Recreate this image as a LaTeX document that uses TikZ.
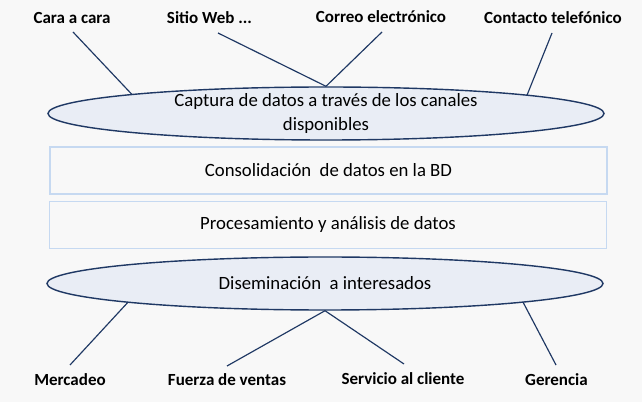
\documentclass[tikz,border=0pt]{standalone}
\usepackage{fontspec}
\setmainfont{Carlito}
\usetikzlibrary{shapes.geometric,positioning}

\definecolor{bgcol}{HTML}{F8F8F8}
\definecolor{navy}{HTML}{1F3864}
\definecolor{ellfill}{HTML}{E9EDF5}
\definecolor{boxline}{HTML}{C6D9F1}

\tikzset{
  stage/.style={ellipse, draw=navy, fill=ellfill, line width=1.2pt,
    minimum width=556*0.03cm, minimum height=53*0.03cm, inner sep=0pt,
    align=center, font=\fontsize{16}{20}\selectfont},
  stepbox/.style={rectangle, draw=boxline, fill=bgcol, line width=1.2pt,
    minimum width=557*0.03cm, minimum height=47*0.03cm, inner sep=0pt,
    font=\fontsize{16}{18}\selectfont},
  channel/.style={font=\bfseries\fontsize{14.5}{16}\selectfont, inner sep=0pt},
  link/.style={draw=navy, line width=1pt}
}

\begin{document}
\begin{tikzpicture}[x=0.03cm, y=-0.03cm]
  \fill[bgcol] (0,0) rectangle (642,402);
  \useasboundingbox (0,0) rectangle (642,402);

  % Stages
  \node[stage, inner ysep=-8pt] (cap) at (326,113.5) {Captura de datos a través de los canales\\disponibles};
  \node[stepbox] (cons) at (328.5,170.5) {Consolidación\ \ de datos en la BD};
  \node[stepbox] (proc) at (328,225) {Procesamiento y análisis de datos};
  \node[stage] (dis) at (325,283.5) {Diseminación\ \ a interesados};

  % Channels
  \node[channel] (cara) at (72,18) {Cara a cara};
  \node[channel] (web) at (209.5,18) {Sitio Web ...};
  \node[channel] (correo) at (381,17) {Correo electrónico};
  \node[channel] (tel) at (553,18) {Contacto telefónico};

  % Interested parties
  \node[channel] (merc) at (70,380) {Mercadeo};
  \node[channel] (fuerza) at (227,380) {Fuerza de ventas};
  \node[channel] (serv) at (403,379) {Servicio al cliente};
  \node[channel] (ger) at (556.5,380) {Gerencia};

  % Links
  \draw[link] ([shift={(1,14)}]cara.center) -- ([shift={(-194,-19)}]cap.center);
  \draw[link] ([shift={(8.5,15)}]web.center) -- (cap.north);
  \draw[link] ([shift={(1,15)}]correo.center) -- (cap.north);
  \draw[link] ([shift={(-1,15)}]tel.center) -- ([shift={(201,-18.3)}]cap.center);

  \draw[link] ([shift={(-197,18.7)}]dis.center) -- ([shift={(0,-15)}]merc.center);
  \draw[link] (dis.south) -- ([shift={(0,-14)}]fuerza.center);
  \draw[link] (dis.south) -- ([shift={(1,-15)}]serv.center);
  \draw[link] ([shift={(198,18.6)}]dis.center) -- ([shift={(-0.5,-15)}]ger.center);
\end{tikzpicture}
\end{document}
